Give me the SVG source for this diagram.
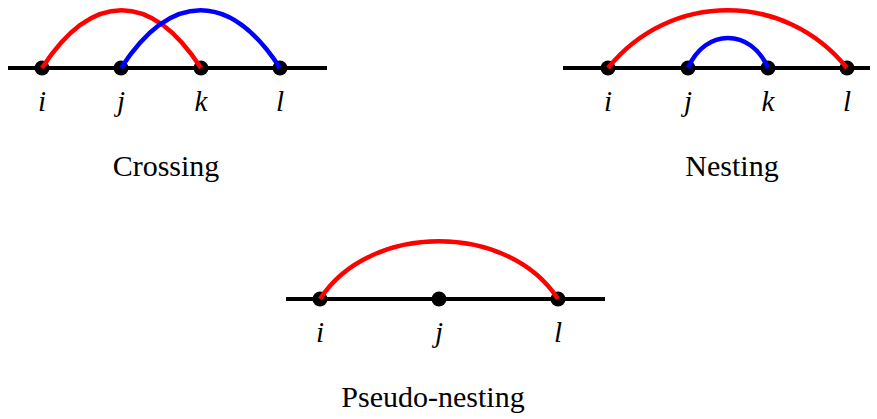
<svg xmlns="http://www.w3.org/2000/svg" width="877" height="419" viewBox="0 0 877 419">
<style>
.axis{stroke:#000;stroke-width:4;fill:none}
.node{fill:#000}
.arc{fill:none;stroke-width:4.5;stroke-linecap:butt}
.red{stroke:#ff0000}
.blue{stroke:#0000ff}
.lbl{font-family:"Liberation Serif","DejaVu Serif",serif;font-style:italic;font-size:29px;text-anchor:middle;fill:#000}
.cap{font-family:"Liberation Serif","DejaVu Serif",serif;font-size:30px;text-anchor:middle;fill:#000}
</style>
<rect width="877" height="419" fill="#fff"/>
<g id="crossing">
<line class="axis" x1="8" y1="68" x2="327" y2="68"/>
<g id="c-i"><circle class="node" cx="42" cy="68" r="7.5"/><text class="lbl" x="42" y="111">i</text></g>
<g id="c-j"><circle class="node" cx="121" cy="68" r="7.5"/><text class="lbl" x="121" y="111">j</text></g>
<g id="c-k"><circle class="node" cx="201" cy="68" r="7.5"/><text class="lbl" x="201" y="111">k</text></g>
<g id="c-l"><circle class="node" cx="280" cy="68" r="7.5"/><text class="lbl" x="280" y="111">l</text></g>
<text class="cap" x="166" y="176">Crossing</text>
</g>
<g id="nesting">
<line class="axis" x1="563" y1="68" x2="870" y2="68"/>
<g id="n-i"><circle class="node" cx="608" cy="68" r="7.5"/><text class="lbl" x="608" y="111">i</text></g>
<g id="n-j"><circle class="node" cx="688" cy="68" r="7.5"/><text class="lbl" x="688" y="111">j</text></g>
<g id="n-k"><circle class="node" cx="768" cy="68" r="7.5"/><text class="lbl" x="768" y="111">k</text></g>
<g id="n-l"><circle class="node" cx="847" cy="68" r="7.5"/><text class="lbl" x="847" y="111">l</text></g>
<text class="cap" x="732" y="176">Nesting</text>
</g>
<g id="pseudo">
<line class="axis" x1="286" y1="299" x2="605" y2="299"/>
<g id="p-i"><circle class="node" cx="320" cy="299" r="7.5"/><text class="lbl" x="320" y="342">i</text></g>
<g id="p-j"><circle class="node" cx="439" cy="299" r="7.5"/><text class="lbl" x="439" y="342">j</text></g>
<g id="p-l"><circle class="node" cx="558" cy="299" r="7.5"/><text class="lbl" x="558" y="342">l</text></g>
<text class="cap" x="433" y="407">Pseudo-nesting</text>
</g>
<g id="connectors">
<path class="arc red" d="M42,68 C92,-9 151,-9 201,68"/>
<path class="arc blue" d="M121,68 C171,-9 230,-9 280,68"/>
<path class="arc red" d="M608,68 C670,-9 785,-9 847,68"/>
<path class="arc blue" d="M688,68 C705,28 751,28 768,68"/>
<path class="arc red" d="M320,299 C370,222 508,222 558,299"/>
</g>
</svg>
